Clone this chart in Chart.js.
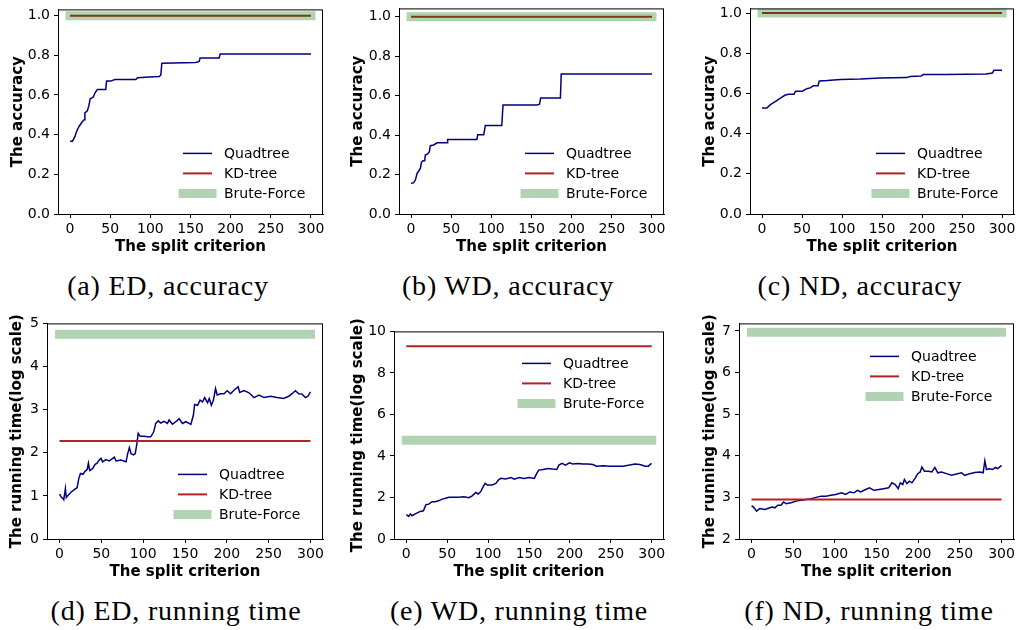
<!DOCTYPE html>
<html>
<head>
<meta charset="utf-8">
<script src="https://cdn.jsdelivr.net/npm/chart.js@4.4.1/dist/chart.umd.min.js"></script>
<style>
  html, body { margin: 0; padding: 0; background: #fff; overflow: hidden; }
  body { width: 1016px; height: 630px; position: relative; }
  canvas { position: absolute; }
  .cap { position: absolute; font-family: "Liberation Serif", serif; font-size: 28px; letter-spacing: 0.8px;
         color: #000; white-space: nowrap; transform: translate(-50%, -50%); }
</style>
</head>
<body>
<script>
// ---- data ----
const seriesNames = ['Quadtree', 'KD-tree', 'Brute-Force'];
const captions = ['(a) ED, accuracy', '(b) WD, accuracy', '(c) ND, accuracy',
                  '(d) ED, running time', '(e) WD, running time', '(f) ND, running time'];

const splitRange = [0, 300];
const splitTicks = [0, 50, 100, 150, 200, 250, 300];
const accTicks = [0, 0.2, 0.4, 0.6, 0.8, 1.0];
const edTimeTicks = [0, 1, 2, 3, 4, 5];
const wdTimeTicks = [0, 2, 4, 6, 8, 10];
const ndTimeTicks = [2, 3, 4, 5, 6, 7];

// constant baselines: ED, WD, ND
const kdAcc = [1.0, 1.0, 1.0];
const bruteAcc = [1.0, 1.0, 1.0];
const kdTime = [2.27, 9.28, 2.95];
const bruteTime = [4.75, 4.76, 6.97];

// Quadtree accuracy
const edAccX = [0, 3, 6, 8.5, 11, 15, 17.5, 18.5, 21.5, 23.5, 25, 29, 31, 34, 44.5, 45.5, 50.5, 56, 82, 84, 94, 111, 113, 114.3, 156.7, 160.8, 162, 185.7, 187, 300];
const edAccY = [0.367, 0.367, 0.39, 0.42, 0.44, 0.464, 0.475, 0.51, 0.52, 0.547, 0.58, 0.59, 0.61, 0.628, 0.628, 0.67, 0.67, 0.678, 0.678, 0.687, 0.69, 0.693, 0.70, 0.76, 0.764, 0.769, 0.787, 0.787, 0.807, 0.807];

const wdAccX = [0, 3.3, 5.4, 7.5, 9.5, 11.6, 12.9, 14.9, 17, 17.8, 20.7, 22.8, 24, 28.2, 32.4, 44.8, 45.6, 82, 83, 90.5, 92.5, 113, 114.5, 156.8, 160, 161.4, 186, 187, 300];
const wdAccY = [0.155, 0.159, 0.172, 0.206, 0.218, 0.231, 0.262, 0.27, 0.27, 0.299, 0.304, 0.316, 0.346, 0.35, 0.361, 0.361, 0.378, 0.378, 0.402, 0.402, 0.448, 0.448, 0.552, 0.552, 0.557, 0.588, 0.588, 0.709, 0.709];

const ndAccX = [0, 6, 11, 17, 24, 28.5, 33, 40, 42, 50.5, 56, 61, 64, 70, 71.6, 81.5, 98, 123, 135, 148, 181, 185, 199, 201.5, 230, 280, 288, 290, 300];
const ndAccY = [0.528, 0.528, 0.546, 0.561, 0.579, 0.591, 0.596, 0.596, 0.611, 0.611, 0.624, 0.629, 0.639, 0.639, 0.662, 0.664, 0.669, 0.672, 0.675, 0.677, 0.679, 0.684, 0.687, 0.694, 0.695, 0.697, 0.702, 0.715, 0.715];

// Quadtree running time (log scale)
const edTimeX = [0, 2, 4, 5, 7, 8, 10, 14, 18, 21, 23, 25, 28, 30.5, 33, 34.5, 36, 39.5, 42.5, 45,
  46.5, 49.5, 51.5, 55.5, 59.5, 65.5, 67.5, 73.5, 79.5, 81.5, 83.5, 85.5, 88.5, 90.5, 92.5, 94, 96.5, 101, 105, 109,
  112.5, 115, 118, 121, 125, 129, 131, 135, 139, 143, 147, 151, 155, 157, 160, 161.5, 165, 168, 171, 173.5,
  177, 179, 181.5, 184, 186.5, 188.5, 192.5, 196.5, 200.5, 204.5, 208.5, 213.5, 215.5, 220.5, 226.5, 232.5, 238.5, 244.5, 252.5, 260,
  268, 274, 278, 282, 286, 290, 294, 297, 300];
const edTimeY = [1.04, 0.975, 0.94, 0.91, 1.17, 0.96, 1.01, 1.09, 1.15, 1.19, 1.40, 1.52, 1.50, 1.57, 1.61, 1.76, 1.59, 1.63, 1.73, 1.76,
  1.81, 1.87, 1.79, 1.84, 1.81, 1.90, 1.81, 1.83, 1.79, 1.98, 2.12, 1.98, 1.95, 1.98, 2.21, 2.45, 2.38, 2.38, 2.37, 2.37,
  2.48, 2.68, 2.74, 2.69, 2.73, 2.68, 2.76, 2.66, 2.72, 2.79, 2.68, 2.72, 2.68, 2.66, 2.87, 3.12, 3.10, 3.22, 3.18, 3.28,
  3.16, 3.26, 3.10, 3.22, 3.49, 3.34, 3.37, 3.37, 3.44, 3.37, 3.45, 3.53, 3.40, 3.44, 3.39, 3.28, 3.34, 3.28, 3.31, 3.28,
  3.26, 3.31, 3.37, 3.44, 3.37, 3.36, 3.28, 3.31, 3.41];

const wdTimeX = [0, 3, 5, 7, 11, 17, 21, 24, 27.5, 31.5, 35.5, 40, 44, 48, 52, 58, 64, 70.5, 76.5, 80.5,
  85, 88, 91, 94, 96.5, 99, 105, 109.5, 112.5, 115.5, 121.5, 128, 132, 138, 144, 150, 156.5, 159.5, 162, 167,
  173, 179, 184, 186.5, 190.5, 194.5, 199.5, 203.5, 210, 216, 222, 228, 232.5, 240.5, 249, 257, 265, 273, 279.5, 285.5,
  292, 296, 298.5, 300];
const wdTimeY = [1.17, 1.09, 1.21, 1.12, 1.21, 1.33, 1.36, 1.65, 1.68, 1.80, 1.80, 1.85, 1.92, 1.96, 2.01, 2.01, 2.01, 2.04, 1.99, 2.08,
  2.24, 2.17, 2.28, 2.52, 2.68, 2.60, 2.60, 2.68, 2.84, 2.92, 2.89, 2.96, 2.88, 2.96, 2.92, 2.96, 2.92, 3.16, 3.32, 3.35,
  3.40, 3.37, 3.35, 3.56, 3.64, 3.56, 3.67, 3.61, 3.64, 3.61, 3.61, 3.59, 3.51, 3.53, 3.51, 3.51, 3.51, 3.56, 3.61, 3.59,
  3.51, 3.51, 3.61, 3.61];

const ndTimeX = [0, 1.2, 4, 6, 10, 16, 22, 25, 28, 31.5, 35.5, 38.5, 41.5, 47.5, 53.5, 59.5, 65.5, 71.5, 77.5, 83.5,
  89.5, 95, 101, 108, 113, 118, 123, 127, 131, 137, 141.5, 147, 153, 158.5, 164.5, 168.5, 172.5, 176, 178.5, 181.5,
  183.5, 186.5, 189.5, 192.5, 197, 199.5, 202.5, 204.5, 207.5, 212.5, 216.5, 220, 223.5, 228, 234, 240, 246, 252, 256, 262,
  268, 274, 278, 280, 282, 285.5, 289.5, 292.5, 295.5, 300];
const ndTimeY = [2.78, 2.79, 2.73, 2.67, 2.73, 2.71, 2.75, 2.77, 2.75, 2.81, 2.81, 2.89, 2.85, 2.87, 2.91, 2.93, 2.95, 2.97, 3.00, 3.03,
  3.03, 3.05, 3.07, 3.11, 3.07, 3.13, 3.11, 3.17, 3.13, 3.19, 3.23, 3.17, 3.19, 3.21, 3.23, 3.35, 3.31, 3.21, 3.35, 3.31,
  3.43, 3.33, 3.39, 3.35, 3.48, 3.57, 3.61, 3.73, 3.63, 3.63, 3.61, 3.72, 3.59, 3.61, 3.57, 3.53, 3.56, 3.59, 3.53, 3.57,
  3.60, 3.61, 3.59, 3.88, 3.67, 3.69, 3.67, 3.72, 3.69, 3.77];

// ---- layout (page pixels) ----
const PAD_T = 12, PAD_R = 16, X_H = 42;
const accTitle = 'The accuracy', timeTitle = 'The running time(log scale)';

const panels = [
  { qx: edAccX, qy: edAccY, kd: kdAcc[0], bf: bruteAcc[0], title: accTitle, ticks: accTicks, yMin: 0, yMax: 1.0315, dec: 1,
    area: [58, 9, 323, 214], titleX: 18, legend: [125, 144], cap: [168, 286] },
  { qx: wdAccX, qy: wdAccY, kd: kdAcc[1], bf: bruteAcc[1], title: accTitle, ticks: accTicks, yMin: 0, yMax: 1.042, dec: 1,
    area: [399, 8, 664, 214], titleX: 358, legend: [126, 145], cap: [508, 286] },
  { qx: ndAccX, qy: ndAccY, kd: kdAcc[2], bf: bruteAcc[2], title: accTitle, ticks: accTicks, yMin: 0, yMax: 1.0235, dec: 1,
    area: [750, 8, 1014, 214], titleX: 710, legend: [126, 145], cap: [860, 286] },
  { qx: edTimeX, qy: edTimeY, kd: kdTime[0], bf: bruteTime[0], title: timeTitle, ticks: edTimeTicks, yMin: 0, yMax: 5, dec: 0,
    area: [47, 323, 323, 539], titleX: 17, legend: [131, 151], cap: [176, 611] },
  { qx: wdTimeX, qy: wdTimeY, kd: kdTime[1], bf: bruteTime[1], title: timeTitle, ticks: wdTimeTicks, yMin: 0, yMax: 10, dec: 0,
    area: [394, 331, 664, 539], titleX: 358, legend: [128, 32], cap: [519, 611] },
  { qx: ndTimeX, qy: ndTimeY, kd: kdTime[2], bf: bruteTime[2], title: timeTitle, ticks: ndTimeTicks, yMin: 2, yMax: 7.18, dec: 0,
    area: [739, 323, 1014, 539], titleX: 710, legend: [131, 33], cap: [869, 611] }
];

Chart.defaults.font.family = '"DejaVu Sans", sans-serif';
Chart.defaults.font.size = 14;
Chart.defaults.color = '#000';

// frame round the axes plus a legend inside the plot
const framePlugin = {
  id: 'frame',
  afterDraw(chart, args, opts) {
    const { ctx, chartArea: a } = chart;
    ctx.save();
    ctx.strokeStyle = '#000';
    ctx.lineWidth = 1;
    ctx.strokeRect(a.left + 0.5, a.top + 0.5, a.right - a.left - 1, a.bottom - a.top);
    let x = a.left + opts.legend[0];
    let y = a.top + opts.legend[1];
    ctx.font = '14px "DejaVu Sans"';
    ctx.textBaseline = 'middle';
    ctx.fillStyle = '#000';
    chart.data.datasets.forEach(ds => {
      ctx.beginPath();
      ctx.lineWidth = ds.borderWidth;
      ctx.strokeStyle = ds.borderColor;
      ctx.lineCap = ds.borderCapStyle || 'butt';
      ctx.moveTo(x, y);
      ctx.lineTo(x + 29, y);
      ctx.stroke();
      ctx.fillText(ds.label, x + 41, y + 1);
      y += 20;
    });
    ctx.restore();
  }
};

function flat(v) {
  return splitRange.map(x => ({ x: x, y: v }));
}

panels.forEach((p, i) => {
  const [L, T, R, B] = p.area;
  const left = p.titleX - 9;
  const yW = L - left;
  const cv = document.createElement('canvas');
  cv.width = yW + (R - L) + PAD_R;
  cv.height = PAD_T + (B - T) + X_H;
  cv.style.left = left + 'px';
  cv.style.top = (T - PAD_T) + 'px';
  document.body.appendChild(cv);

  const cap = document.createElement('div');
  cap.className = 'cap';
  cap.textContent = captions[i];
  cap.style.left = p.cap[0] + 'px';
  cap.style.top = p.cap[1] + 'px';
  document.body.appendChild(cap);

  new Chart(cv.getContext('2d'), {
    type: 'line',
    data: {
      datasets: [
        { label: seriesNames[0], data: p.qx.map((x, k) => ({ x: x, y: p.qy[k] })),
          borderColor: '#000080', borderWidth: 1.5, pointRadius: 0, order: 2 },
        { label: seriesNames[1], data: flat(p.kd),
          borderColor: '#b22222', borderWidth: 2, pointRadius: 0, order: 1 },
        { label: seriesNames[2], data: flat(p.bf),
          borderColor: 'rgba(0,110,0,0.3)', borderWidth: 9, borderCapStyle: 'square', pointRadius: 0, order: 0 }
      ]
    },
    options: {
      responsive: false,
      animation: false,
      events: [],
      layout: { padding: { left: 0, top: PAD_T, right: PAD_R, bottom: 0 } },
      plugins: {
        legend: { display: false },
        tooltip: { enabled: false },
        frame: { legend: p.legend }
      },
      scales: {
        x: {
          type: 'linear', min: -15, max: 315,
          afterBuildTicks: s => { s.ticks = splitTicks.map(v => ({ value: v })); },
          afterFit: s => { s.height = X_H; },
          grid: { display: true, drawOnChartArea: false, drawTicks: true, tickLength: 4, color: '#000' },
          border: { display: true, color: '#000', width: 1 },
          ticks: { color: '#000', padding: 3, maxRotation: 0, autoSkip: false },
          title: { display: true, text: 'The split criterion', color: '#000', padding: 0,
                   font: { size: 15, weight: 'bold' } }
        },
        y: {
          type: 'linear', min: p.yMin, max: p.yMax,
          afterBuildTicks: s => { s.ticks = p.ticks.map(v => ({ value: v })); },
          afterFit: s => { s.width = yW; },
          grid: { display: true, drawOnChartArea: false, drawTicks: true, tickLength: 4, color: '#000' },
          border: { display: true, color: '#000', width: 1 },
          ticks: { color: '#000', padding: 4, callback: v => v.toFixed(p.dec) },
          title: { display: true, text: p.title, color: '#000', padding: 0,
                   font: { size: 15, weight: 'bold' } }
        }
      }
    },
    plugins: [framePlugin]
  });
});
</script>
</body>
</html>
